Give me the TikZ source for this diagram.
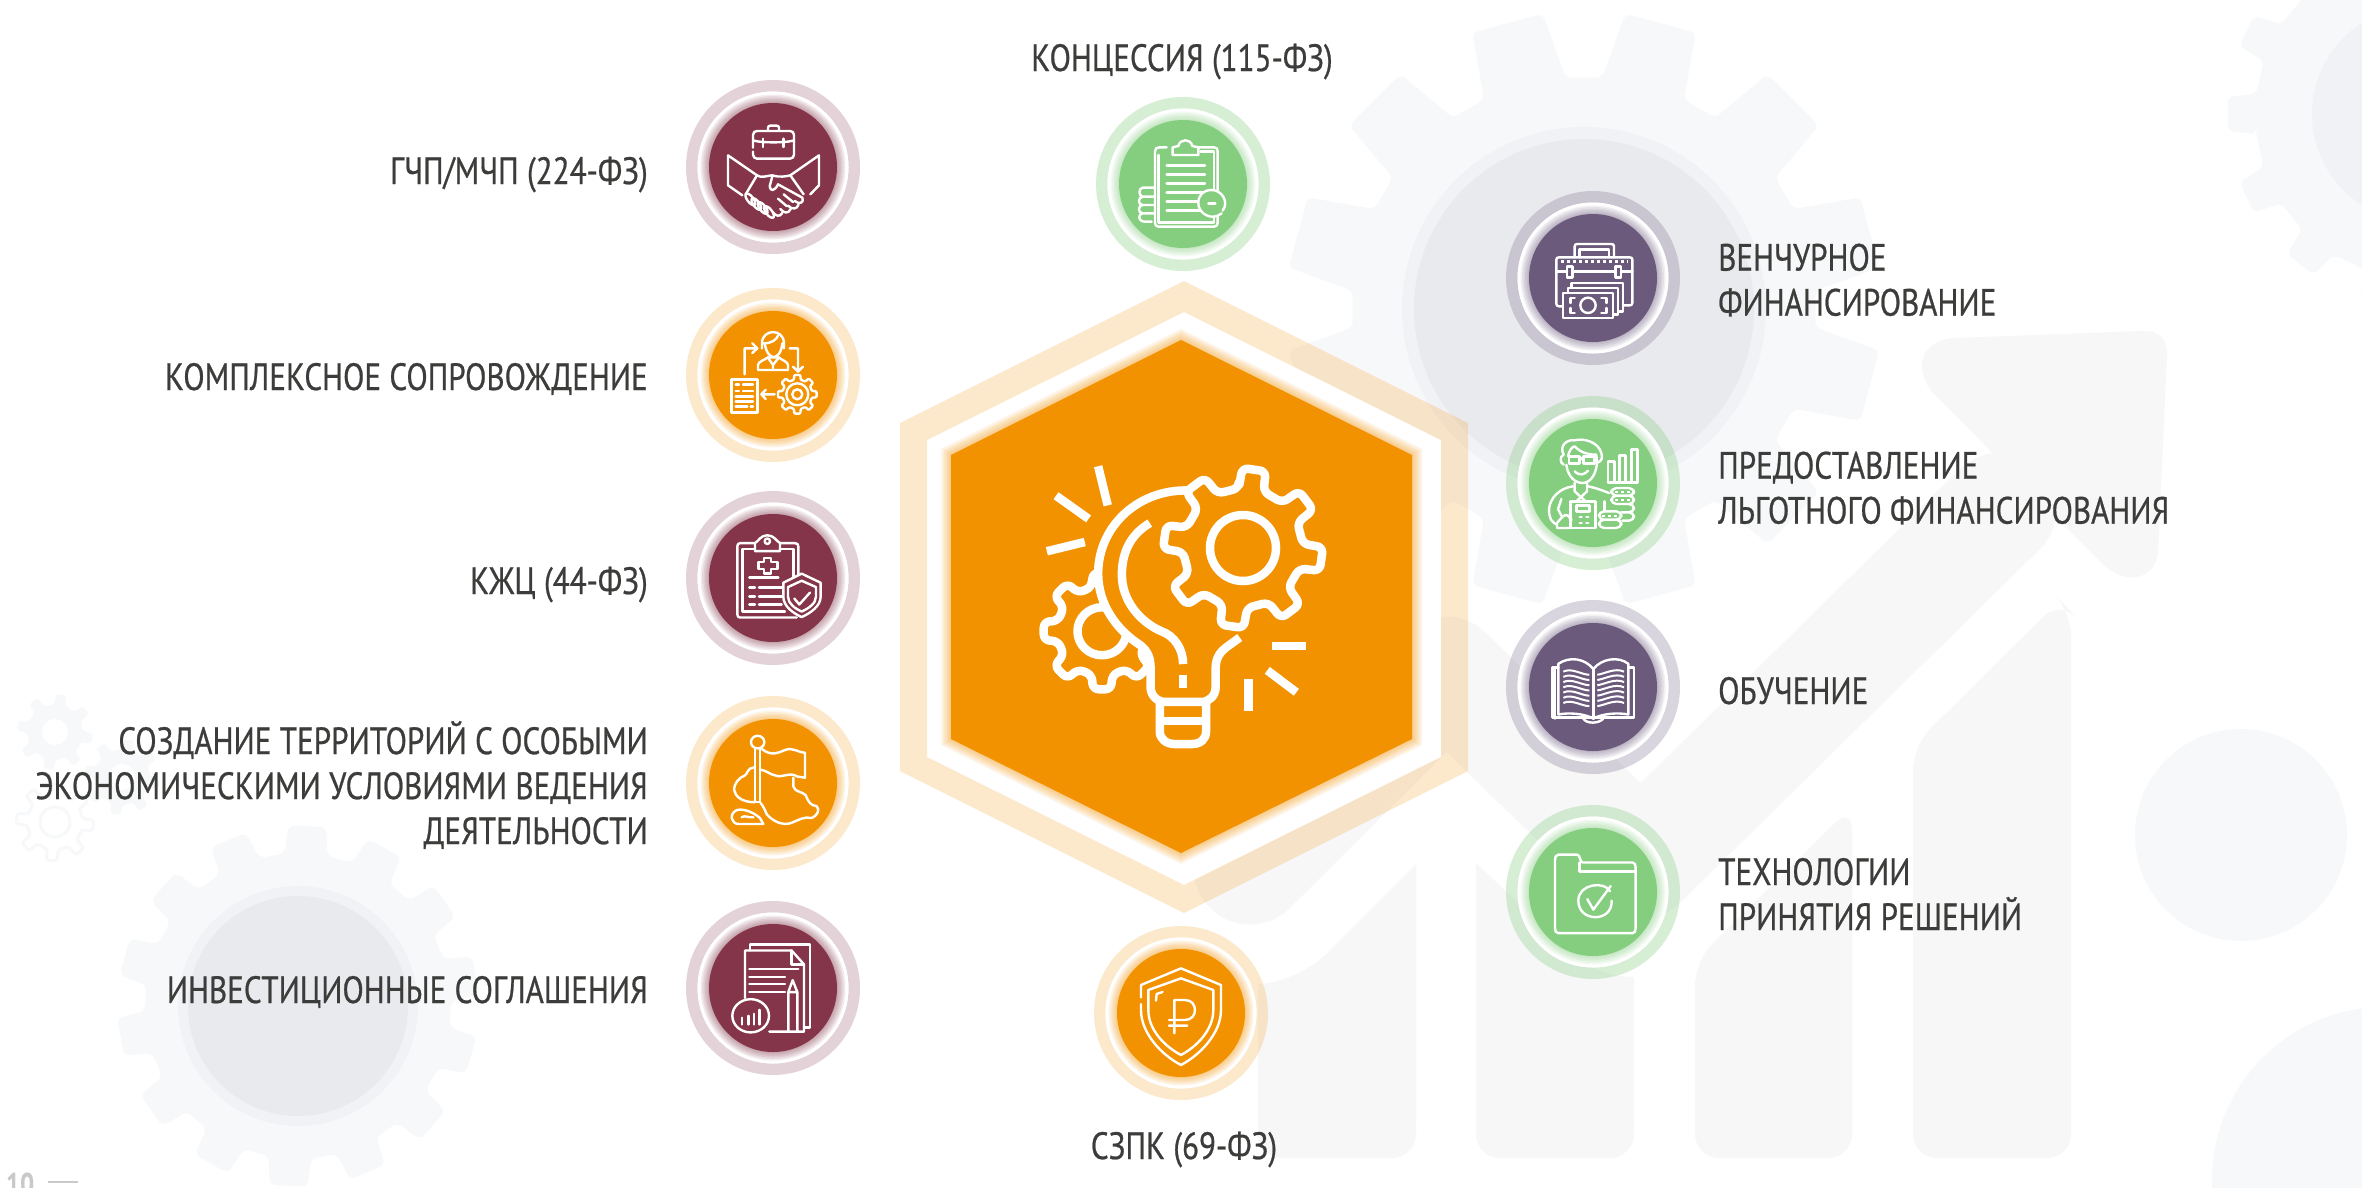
\documentclass[tikz,border=0pt]{standalone}
\usepackage{fontspec}
\setmainfont[FakeStretch=0.82,FakeBold=0.6]{PT Sans}
\definecolor{cMaroon}{HTML}{84354A}
\definecolor{cOrange}{HTML}{F39200}
\definecolor{cGreen}{HTML}{85CE7F}
\definecolor{cPurple}{HTML}{6B5A7C}
\definecolor{cGearA}{HTML}{F7F8FA}
\definecolor{cGearB}{HTML}{F1F2F5}
\definecolor{cGearC}{HTML}{E9EAEE}
\definecolor{cBand}{HTML}{F7F7F8}
\definecolor{cText}{HTML}{3C3C3B}
\definecolor{cPage}{HTML}{C9C9C9}
\tikzset{
  label text/.style={font=\fontsize{38}{45}\selectfont,text=cText,inner sep=0pt,align=left},
  core disc/.style={circle,fill=#1,minimum size=128pt,inner sep=0pt},
  ico/.style={draw=white,line width=2.4pt,line join=round,line cap=round},
  bigico/.style={draw=white,line width=8.5pt,line join=round},
  zoomed/.style={x=0.3333pt,y=-0.3333pt},
}
% \gearpath{cx}{cy}{rroot}{rtip}{teeth}{phase (deg clockwise from up)}{root half angle}{tip half angle}
\newcommand{\gearpath}[8]{%
  ({#1+#3*sin(#6-#7)},{#2-#3*cos(#6-#7)})%
  \foreach \gi in {1,...,#5}{%
    -- ({#1+#4*sin(#6+(\gi-1)*360/#5-#8)},{#2-#4*cos(#6+(\gi-1)*360/#5-#8)})
    -- ({#1+#4*sin(#6+(\gi-1)*360/#5+#8)},{#2-#4*cos(#6+(\gi-1)*360/#5+#8)})
    -- ({#1+#3*sin(#6+(\gi-1)*360/#5+#7)},{#2-#3*cos(#6+(\gi-1)*360/#5+#7)})
    -- ({#1+#3*sin(#6+\gi*360/#5-#7)},{#2-#3*cos(#6+\gi*360/#5-#7)})
  } -- cycle
}
\newcommand{\badge}[5]{%
  \fill[#4,opacity=#5,even odd rule] (#2,#3) circle[radius=87pt] (#2,#3) circle[radius=75.5pt];
  \fill[white] (#2,#3) circle[radius=75.5pt];
  \foreach \w in {2,5,8,11,14,17}{\draw[#4,opacity=.09,line width=\w pt] (#2,#3) circle[radius=64pt];}
  \node[core disc=#4] (#1) at (#2,#3) {};
}
\begin{document}
\begin{tikzpicture}[x=1pt,y=-1pt]
\useasboundingbox (0,0) rectangle (2362,1187);
\clip (0,0) rectangle (2362,1187);
\fill[white] (0,0) rectangle (2362,1187);
% ---------- background
\fill[cBand,rounded corners=24pt] (1258,1158) -- (1258,1100) -- (1416,1100) -- (1416,1158) -- cycle;
\fill[cBand] (1258,1120) -- (1258,984) .. controls (1280,984) and (1310,970) .. (1325,955) -- (1416,864) -- (1416,1120) -- cycle;
\fill[cBand,rounded corners=24pt] (1476,1158) -- (1476,1100) -- (1634,1100) -- (1634,1158) -- cycle;
\fill[cBand] (1476,1120) -- (1476,863) -- (1563,945) .. controls (1585,968) and (1610,977) .. (1634,977) -- (1634,1120) -- cycle;
\fill[cBand,rounded corners=24pt] (1695,1158) -- (1695,961) -- (1852,806) -- (1852,1158) -- cycle;
\fill[cBand,rounded corners=24pt] (1913,1158) -- (1913,746) -- (2060,600) -- (2071,612) -- (2071,1158) -- cycle;
\draw[cBand,line width=113pt,line cap=round,line join=round] (1250,868) -- (1446,673) -- (1641,862) -- (2000,509);
\fill[cBand] (1935,395) .. controls (1915,375) and (1915,340) .. (1956,338) -- (2141,331) .. controls (2160,330) and (2168,340) .. (2167,356) -- (2158,553) .. controls (2155,580) and (2125,585) .. (2104,565) -- cycle;
\fill[cGearA] (2241,835) circle[radius=106pt];
\fill[cGearA] (2385,1180) circle[radius=173pt];
\fill[cGearA,rounded corners=6pt] \gearpath{1584}{309}{232}{298}{12}{15}{10.5}{7};
\fill[cGearB] (1584,309) circle[radius=182pt];
\fill[cGearC] (1584,309) circle[radius=170pt];
\fill[cGearA,rounded corners=6pt] \gearpath{2420}{114}{165}{193}{14}{270}{7}{5};
\fill[cGearB] (2420,114) circle[radius=108pt];
\fill[cGearA,rounded corners=6pt] \gearpath{298}{1006}{153}{181}{14}{3}{8}{6};
\fill[cGearB] (298,1006) circle[radius=120pt];
\fill[cGearC] (298,1006) circle[radius=110pt];
\fill[cGearA,rounded corners=3pt] \gearpath{122}{777}{28}{38}{8}{10}{11}{8};
\fill[white] (122,777) circle[radius=13pt];
\fill[cGearA,rounded corners=3pt] \gearpath{55}{732}{28}{38}{8}{10}{11}{8};
\fill[white] (55,732) circle[radius=13pt];
\draw[cGearA,line width=3pt,rounded corners=3pt] \gearpath{55}{822}{28}{39}{8}{5}{11}{8};
\draw[cGearA,line width=3pt] (55,822) circle[radius=15pt];
% ---------- hexagon
\fill[white] (1184,312) -- (1441,440) -- (1441,757) -- (1184,885) -- (927,757) -- (927,440) -- cycle;
\fill[cOrange,opacity=.2,even odd rule] (1184,281) -- (1468,423) -- (1468,771) -- (1184,913) -- (900,771) -- (900,423) -- cycle
   (1184,312) -- (1441,440) -- (1441,757) -- (1184,885) -- (927,757) -- (927,440) -- cycle;
\foreach \w in {2,5,8,11,14,17,20}{\draw[cOrange,opacity=.08,line width=\w pt] (1181,340) -- (1412,455) -- (1412,739) -- (1181,853) -- (951,739) -- (951,455) -- cycle;}
\node[inner sep=0pt] (hex) at (1181,596) {};
\fill[cOrange] (1181,340) -- (1412,455) -- (1412,739) -- (1181,853) -- (951,739) -- (951,455) -- cycle;
% center icon (in zoom units)
\begin{scope}[shift={(880,260)},x=0.3827pt,y=-0.4209pt]
 \draw[bigico] (580,882) ellipse[x radius=64,y radius=57];
\end{scope}
\draw[bigico,rounded corners=6pt] \gearpath{1102}{631}{45}{59}{8}{0}{13}{9};
\begin{scope}[shift={(880,260)},x=0.3827pt,y=-0.4209pt]
 \fill[cOrange] (815,548) .. controls (680,540) and (570,630) .. (570,745) .. controls (570,820) and (620,880) .. (680,915) .. controls (700,930) and (707,945) .. (707,970) -- (707,1015) .. controls (707,1035) and (725,1050) .. (745,1050) -- (840,1050) .. controls (860,1050) and (877,1035) .. (877,1015) -- (877,970) .. controls (877,945) and (890,930) .. (905,920) -- (940,897) -- cycle;
 \draw[bigico] (815,548) .. controls (680,540) and (570,630) .. (570,745) .. controls (570,820) and (620,880) .. (680,915) .. controls (700,930) and (707,945) .. (707,970) -- (707,1015) .. controls (707,1035) and (725,1050) .. (745,1050) -- (840,1050) .. controls (860,1050) and (877,1035) .. (877,1015) -- (877,970) .. controls (877,945) and (890,930) .. (905,920) -- (940,897);
\end{scope}
\fill[cOrange,rounded corners=6pt] \gearpath{1243}{548}{60}{80}{8}{8}{12}{8.5};
\draw[bigico,rounded corners=6pt] \gearpath{1243}{548}{60}{80}{8}{8}{12}{8.5};
\draw[bigico] (1243,548) circle[radius=33pt];
\begin{scope}[shift={(880,260)},x=0.3827pt,y=-0.4209pt]
 \draw[bigico] (705,625) .. controls (650,655) and (632,700) .. (632,748) .. controls (632,810) and (680,860) .. (735,882) .. controls (770,893) and (792,925) .. (792,960);
 \draw[bigico] (792,985) -- (792,1017);
 \draw[bigico] (731,1050) -- (731,1120) .. controls (731,1138) and (748,1150) .. (770,1150) -- (815,1150) .. controls (838,1150) and (852,1138) .. (852,1120) -- (852,1050);
 \draw[bigico] (731,1095) -- (852,1095);
 \draw[bigico] (570,490) -- (595,583);
 \draw[bigico] (460,560) -- (545,615);
 \draw[bigico] (436,692) -- (535,670);
 \draw[bigico] (1025,917) -- (1112,917);
 \draw[bigico] (1012,975) -- (1088,1027);
 \draw[bigico] (963,995) -- (963,1072);
\end{scope}
% ---------- badges
\badge{gchp}{773}{167}{cMaroon}{.22}
\badge{kompl}{773}{375}{cOrange}{.2}
\badge{kzhc}{773}{578}{cMaroon}{.22}
\badge{terr}{773}{783}{cOrange}{.2}
\badge{invest}{773}{988}{cMaroon}{.22}
\badge{konc}{1183}{184}{cGreen}{.33}
\badge{szpk}{1181}{1013}{cOrange}{.2}
\badge{vench}{1593}{278}{cPurple}{.25}
\badge{lgot}{1593}{483}{cGreen}{.33}
\badge{obuch}{1593}{687}{cPurple}{.25}
\badge{tehn}{1593}{892}{cGreen}{.33}
% ---------- handshake
\begin{scope}[shift={(713,107)},zoomed]
 \draw[ico] (120,122) -- (120,84) .. controls (120,76) and (126,72) .. (132,72) -- (231,72) .. controls (238,72) and (243,76) .. (243,84) -- (243,143) .. controls (243,150) and (238,155) .. (231,155) -- (132,155) .. controls (126,155) and (120,150) .. (120,143) -- (120,134);
 \draw[ico] (165,70) -- (165,62) .. controls (165,58) and (168,56) .. (172,56) -- (191,56) .. controls (195,56) and (198,58) .. (198,62) -- (198,70);
 \draw[ico] (120,100) .. controls (140,108) and (222,108) .. (243,100);
 \draw[ico] (150,95) -- (150,120) (212,95) -- (212,120);
 \draw[ico] (132,205) -- (45,145) -- (45,235) -- (88,265);
 \draw[ico] (232,205) -- (318,145) -- (318,235) -- (292,262);
 \draw[ico] (132,205) -- (98,262);
 \draw[ico] (232,205) -- (272,262);
 \draw[ico] (132,205) .. controls (145,215) and (165,205) .. (178,205) .. controls (200,212) and (220,208) .. (232,205);
 \draw[ico] (178,208) -- (170,238) .. controls (172,255) and (186,252) .. (195,232) -- (268,272) .. controls (275,285) and (260,295) .. (245,282);
 \draw[ico] (257,292) .. controls (252,308) and (238,308) .. (225,296) (233,306) .. controls (226,322) and (212,318) .. (202,306) (208,318) .. controls (200,332) and (188,326) .. (180,316);
 \draw[ico] (195,275) -- (222,298) (212,262) -- (240,285);
 \foreach \fx/\fy in {112/277,130/291,149/303,168/315}{\draw[ico] (\fx,\fy) ellipse[x radius=21,y radius=9,rotate=-52];}
\end{scope}
% ---------- person / gear / document
\begin{scope}[shift={(713,315)},zoomed]
 \draw[ico] (147,100) -- (147,85) .. controls (147,40) and (213,40) .. (213,85) -- (213,100);
 \draw[ico] (155,85) .. controls (160,115) and (172,126) .. (182,126) .. controls (192,126) and (205,115) .. (208,85);
 \draw[ico] (152,85) .. controls (175,85) and (190,75) .. (195,62);
 \draw[ico] (135,165) -- (135,150) .. controls (135,140) and (155,135) .. (165,127) -- (197,127) .. controls (205,135) and (225,140) .. (225,150) -- (225,165) -- cycle;
 \draw[ico] (165,128) -- (180,150) -- (197,128) (180,150) -- (180,165);
 \draw[ico] (95,178) -- (95,100) -- (133,100) (118,85) -- (133,100) -- (118,114);
 \draw[ico] (230,100) -- (255,100) -- (255,170) (240,155) -- (255,170) -- (270,155);
 \draw[ico,line cap=butt] (55,193) rectangle (133,293);
 \draw[ico] (68,208) -- (78,208) (90,208) -- (120,208) (68,228) -- (78,228) (90,228) -- (120,228) (68,245) -- (120,245) (68,260) -- (120,260) (68,275) -- (103,275) (113,275) -- (120,275);
 \draw[ico] (185,238) -- (145,238) (158,225) -- (145,238) -- (158,252);
\end{scope}
\draw[ico,rounded corners=1pt] \gearpath{797.3}{394.3}{15}{19.5}{8}{0}{13}{9};
\draw[ico] (797.3,394.3) circle[radius=11pt] (797.3,394.3) circle[radius=5pt];
% ---------- icons, zoom 3 units
\begin{scope}[shift={(660,470)},x=0.3333pt,y=-0.3955pt]
 % KZhC
 \draw[ico] (285,185) -- (240,185) .. controls (235,185) and (232,188) .. (232,193) -- (232,365) .. controls (232,370) and (235,373) .. (240,373) -- (410,373);
 \draw[ico] (360,185) -- (405,185) .. controls (412,185) and (415,188) .. (415,193) -- (415,268);
 \draw[ico] (285,200) -- (248,200) -- (248,358) -- (375,358) (360,200) -- (400,200) -- (400,272);
 \draw[ico] (285,205) -- (285,185) .. controls (295,180) and (302,165) .. (322,165) .. controls (342,165) and (350,180) .. (360,185) -- (360,205) -- cycle;
 \draw[ico] (322,180) circle[x radius=8,y radius=7];
 \draw[ico] (312,222) -- (333,222) -- (333,232) -- (352,232) -- (352,250) -- (333,250) -- (333,262) -- (312,262) -- (312,250) -- (295,250) -- (295,232) -- (312,232) -- cycle;
 \draw[ico] (268,272) -- (355,272) (268,297) -- (285,297) (297,297) -- (365,297) (268,320) -- (285,320) (297,320) -- (365,320) (268,340) -- (285,340) (297,340) -- (365,340);
 \fill[cMaroon] (425,262) -- (482,285) -- (482,320) .. controls (482,345) and (450,362) .. (425,372) .. controls (400,362) and (370,345) .. (370,320) -- (370,285) -- cycle;
 \draw[ico] (425,262) -- (482,285) -- (482,320) .. controls (482,345) and (450,362) .. (425,372) .. controls (400,362) and (370,345) .. (370,320) -- (370,285) -- cycle;
 \draw[ico] (425,280) -- (468,296) -- (468,320) .. controls (468,338) and (445,350) .. (425,358) .. controls (405,350) and (384,338) .. (384,320) -- (384,296) -- cycle;
 \draw[ico] (403,325) -- (418,340) -- (450,310);
 % flag and land
 \draw[ico] (285,705) -- (285,840) -- (300,840) -- (300,705);
 \draw[ico] (293,688) circle[x radius=20,y radius=16];
 \draw[ico] (305,705) .. controls (335,725) and (355,715) .. (375,708) .. controls (400,700) and (415,715) .. (435,715) -- (435,778) -- (412,775) .. controls (390,762) and (365,780) .. (345,772) .. controls (330,770) and (320,760) .. (303,758);
 \draw[ico] (282,752) .. controls (262,752) and (262,770) .. (255,772) .. controls (235,778) and (222,795) .. (222,808) .. controls (225,825) and (245,840) .. (284,840);
 \draw[ico] (400,778) -- (400,800) .. controls (405,815) and (425,812) .. (437,822) .. controls (445,838) and (450,848) .. (470,850) .. controls (482,860) and (470,875) .. (455,880) .. controls (435,875) and (415,885) .. (395,892) .. controls (370,900) and (340,890) .. (320,870) .. controls (315,860) and (310,850) .. (302,842);
 \draw[ico] (230,860) .. controls (250,855) and (280,865) .. (300,880) -- (310,895) -- (235,895) .. controls (215,895) and (205,870) .. (230,860);
 \draw[ico] (245,878) .. controls (255,872) and (265,880) .. (280,878);
 % documents
 \draw[ico] (270,1215) -- (270,1200) -- (450,1200) -- (450,1410) -- (432,1410);
 \draw[ico] (328,1420) -- (432,1420) -- (432,1250) -- (395,1215) -- (255,1215) -- (255,1335);
 \draw[ico] (395,1215) -- (395,1250) -- (432,1250);
 \draw[ico] (268,1262) -- (415,1262) (268,1282) -- (375,1282) (268,1300) -- (375,1300) (268,1320) -- (375,1320);
 \draw[ico] (385,1420) -- (385,1320) -- (398,1290) -- (412,1320) -- (412,1420) (385,1320) -- (412,1320);
 \fill[cMaroon] (272,1380) circle[x radius=55,y radius=42];
 \draw[ico] (272,1380) circle[x radius=55,y radius=42];
 \draw[ico] (246,1385) -- (246,1402) (265,1380) -- (265,1402) (282,1375) -- (282,1402) (298,1365) -- (298,1402);
\end{scope}
% ---------- Concession icon
\begin{scope}[shift={(1070,90)},zoomed]
 \draw[ico] (290,172) -- (268,172) .. controls (260,172) and (255,176) .. (255,184) -- (255,400) .. controls (255,406) and (260,410) .. (266,410) -- (432,410) .. controls (440,410) and (443,405) .. (443,398) -- (443,375);
 \draw[ico] (388,172) -- (432,172) .. controls (440,172) and (443,176) .. (443,184) -- (443,300);
 \draw[ico] (265,195) -- (265,398) -- (432,398) -- (432,380) (432,300) -- (432,185) -- (392,185);
 \draw[ico] (308,195) -- (308,172) -- (325,168) .. controls (330,145) and (362,145) .. (367,168) -- (385,172) -- (385,195) -- cycle;
 \draw[ico] (290,227) -- (405,227) (290,254) -- (405,254) (290,281) -- (405,281) (290,308) -- (400,308) (290,335) -- (385,335) (290,362) -- (395,362);
 \draw[ico] (255,293) -- (218,293) .. controls (205,295) and (205,318) .. (218,320) -- (255,320) (218,320) .. controls (203,322) and (203,345) .. (218,345) -- (255,345) (218,345) .. controls (203,348) and (203,368) .. (218,370) -- (255,370) (218,370) .. controls (203,372) and (203,395) .. (225,395) -- (245,395);
 \fill[cGreen] (425,340) circle[radius=40];
 \draw[ico] (455,370) .. controls (425,395) and (385,370) .. (385,340) .. controls (385,315) and (400,300) .. (425,300) .. controls (455,300) and (478,335) .. (458,362);
 \draw[ico] (415,340) -- (436,340);
\end{scope}
% ---------- Shield icon
\begin{scope}[shift={(1070,910)},zoomed]
 \draw[ico] (213,262) -- (213,225) -- (333,175) -- (453,225) -- (453,300) .. controls (453,370) and (390,435) .. (333,465) .. controls (275,435) and (213,370) .. (213,300) -- (213,282);
 \draw[ico] (235,240) -- (333,205) -- (430,240) -- (430,300) .. controls (430,360) and (380,410) .. (333,435) .. controls (285,410) and (235,360) .. (235,300) -- cycle;
 \draw[ico] (258,272) -- (260,252) -- (278,246);
 \draw[ico] (313,370) -- (313,270) -- (345,270) .. controls (385,270) and (385,330) .. (345,330) -- (297,330) (297,347) -- (352,347);
\end{scope}
% ---------- venture briefcase
\begin{scope}[shift={(1533,218)},zoomed]
 \draw[ico] (90,265) -- (78,265) .. controls (73,265) and (70,262) .. (70,257) -- (70,125) .. controls (70,120) and (73,118) .. (78,118) -- (290,118) .. controls (295,118) and (298,120) .. (298,125) -- (298,255) .. controls (298,260) and (295,262) .. (290,262) -- (272,262);
 \draw[ico] (125,118) -- (125,85) .. controls (125,80) and (128,78) .. (133,78) -- (235,78) .. controls (240,78) and (243,80) .. (243,85) -- (243,118);
 \draw[ico] (140,118) -- (140,95) -- (228,95) -- (228,118);
 \draw[white,line width=2.4pt,dash pattern=on 3pt off 3pt] (85,131) -- (285,131);
 \draw[ico] (70,160) -- (102,160) (118,160) -- (248,160) (264,160) -- (298,160);
 \draw[ico] (102,145) rectangle (118,178) (248,145) rectangle (264,178);
 \draw[ico] (90,225) rectangle (240,300);
 \draw[ico] (105,225) -- (105,210) -- (255,210) -- (255,290) -- (240,290);
 \draw[ico] (115,210) -- (115,195) -- (270,195) -- (270,280) -- (255,280);
 \draw[ico] (165,262) circle[radius=23];
 \draw[ico] (125,240) -- (112,240) -- (112,255) (112,270) -- (112,285) -- (125,285);
 \draw[ico] (205,240) -- (220,240) -- (220,255) (220,270) -- (220,285) -- (205,285);
\end{scope}
% ---------- person with chart and coins
\begin{scope}[shift={(1533,423)},zoomed]
 \draw[ico] (92,125) .. controls (80,120) and (80,100) .. (92,95) .. controls (78,70) and (100,48) .. (125,52) .. controls (150,45) and (195,55) .. (205,90) .. controls (210,105) and (205,115) .. (195,118);
 \draw[ico] (105,100) .. controls (108,85) and (115,72) .. (125,70) .. controls (145,90) and (165,95) .. (190,95) -- (192,115);
 \draw[ico] (100,125) .. controls (105,165) and (130,180) .. (148,180) .. controls (175,180) and (190,150) .. (192,118);
 \draw[ico] (108,100) rectangle (140,122) (152,100) rectangle (185,122) (140,106) -- (152,106);
 \draw[ico] (125,145) .. controls (140,160) and (155,155) .. (165,143);
 \draw[ico] (125,180) -- (125,205) -- (158,235) (162,180) -- (162,205) -- (130,235);
 \draw[ico] (120,190) .. controls (80,195) and (50,225) .. (48,260) .. controls (48,290) and (60,300) .. (72,305) -- (72,315) -- (112,315);
 \draw[ico] (165,190) .. controls (190,195) and (215,205) .. (228,210);
 \draw[ico] (112,235) rectangle (187,315);
 \draw[ico] (130,247) rectangle (170,265);
 \draw[ico] (140,282) -- (146,282) (160,282) -- (166,282) (140,300) -- (146,300) (160,300) -- (166,300);
 \draw[ico] (85,228) -- (75,258) -- (85,278) (72,300) .. controls (85,285) and (95,270) .. (105,278) .. controls (110,290) and (120,280) .. (112,300);
 \draw[ico] (215,235) -- (215,265);
 \draw[ico] (225,178) -- (225,115) -- (245,115) -- (245,178) (260,178) -- (260,97) -- (278,97) -- (278,178) (295,178) -- (295,80) -- (314,80) -- (314,178) (225,178) -- (314,178);
 \draw[ico,rounded corners=5pt] (235,195) rectangle (303,218) (235,218) rectangle (303,243) (262,243) -- (303,243) -- (303,268) -- (265,268) (270,268) -- (303,268) -- (303,293) -- (268,293);
 \draw[ico,rounded corners=5pt] (198,265) rectangle (265,290) (198,290) rectangle (265,315);
 \draw[white,line width=1.8pt,dash pattern=on 3pt off 3pt] (245,206) -- (295,206) (245,231) -- (295,231) (208,278) -- (258,278);
\end{scope}
% ---------- right icons, zoom 4 units
\begin{scope}[shift={(1490,180)},x=0.3333pt,y=-0.523pt]
 % book
 \draw[ico] (310,1030) .. controls (285,1020) and (235,1018) .. (205,1022) -- (205,925) .. controls (240,910) and (285,915) .. (310,935) .. controls (335,915) and (385,910) .. (415,925) -- (415,1022) .. controls (385,1018) and (335,1020) .. (310,1030) -- cycle;
 \draw[ico] (310,935) -- (310,1030);
 \draw[ico] (205,932) -- (187,932) -- (187,1028) -- (432,1028) -- (432,932) -- (415,932);
 \draw[ico] (195,932) -- (195,1030);
 \draw[ico] (280,1030) .. controls (290,1040) and (325,1040) .. (340,1030);
 \foreach \yy in {940,950,960,970,980,990,1000}{
  \draw[white,line width=2pt] (220,\yy) .. controls (245,\yy-8) and (275,\yy+6) .. (298,\yy+6);
  \draw[white,line width=2pt] (322,\yy+6) .. controls (345,\yy+4) and (375,\yy-8) .. (402,\yy);
 }
 % folder
 \draw[ico] (205,1290) -- (262,1290) .. controls (270,1290) and (270,1305) .. (278,1305) -- (428,1305) .. controls (435,1305) and (437,1310) .. (437,1315) -- (437,1430) .. controls (437,1436) and (435,1440) .. (428,1440) -- (205,1440) .. controls (197,1440) and (195,1436) .. (195,1430) -- (195,1300) .. controls (195,1295) and (197,1290) .. (205,1290);
 \draw[ico] (268,1305) -- (268,1322) -- (437,1322);
 \draw[ico] (360,1360) .. controls (345,1340) and (265,1345) .. (265,1378) .. controls (265,1420) and (368,1420) .. (365,1378);
 \draw[ico] (292,1375) -- (310,1395) -- (362,1350);
\end{scope}
% ---------- texts
\node[label text,anchor=base east] (t1) at (648,184) {ГЧП/МЧП (224-ФЗ)};
\node[label text,anchor=base east] (t2) at (648,390) {КОМПЛЕКСНОЕ СОПРОВОЖДЕНИЕ};
\node[label text,anchor=base east] (t3) at (648,594) {КЖЦ (44-ФЗ)};
\node[label text,anchor=east,align=right] (t4) at (648,785) {СОЗДАНИЕ ТЕРРИТОРИЙ С ОСОБЫМИ\\ЭКОНОМИЧЕСКИМИ УСЛОВИЯМИ ВЕДЕНИЯ\\ДЕЯТЕЛЬНОСТИ};
\node[label text,anchor=base east] (t5) at (648,1003) {ИНВЕСТИЦИОННЫЕ СОГЛАШЕНИЯ};
\node[label text,anchor=base] (t6) at (1182,71) {КОНЦЕССИЯ (115-ФЗ)};
\node[label text,anchor=base] (t7) at (1184,1159) {СЗПК (69-ФЗ)};
\node[label text,anchor=west] (t8) at (1718,280) {ВЕНЧУРНОЕ\\ФИНАНСИРОВАНИЕ};
\node[label text,anchor=west] (t9) at (1718,488) {ПРЕДОСТАВЛЕНИЕ\\ЛЬГОТНОГО ФИНАНСИРОВАНИЯ};
\node[label text,anchor=base west] (t10) at (1718,704) {ОБУЧЕНИЕ};
\node[label text,anchor=west] (t11) at (1718,894) {ТЕХНОЛОГИИ\\ПРИНЯТИЯ РЕШЕНИЙ};
% page number
\node[anchor=base west,inner sep=0pt,font=\fontsize{30}{30}\selectfont\bfseries,text=cPage] (pg) at (6,1194) {10};
\coordinate (pa) at (48,1182);
\coordinate (pb) at (78,1182);
\draw[cPage,line width=1.6pt] (pa) -- (pb);
\end{tikzpicture}
\end{document}
